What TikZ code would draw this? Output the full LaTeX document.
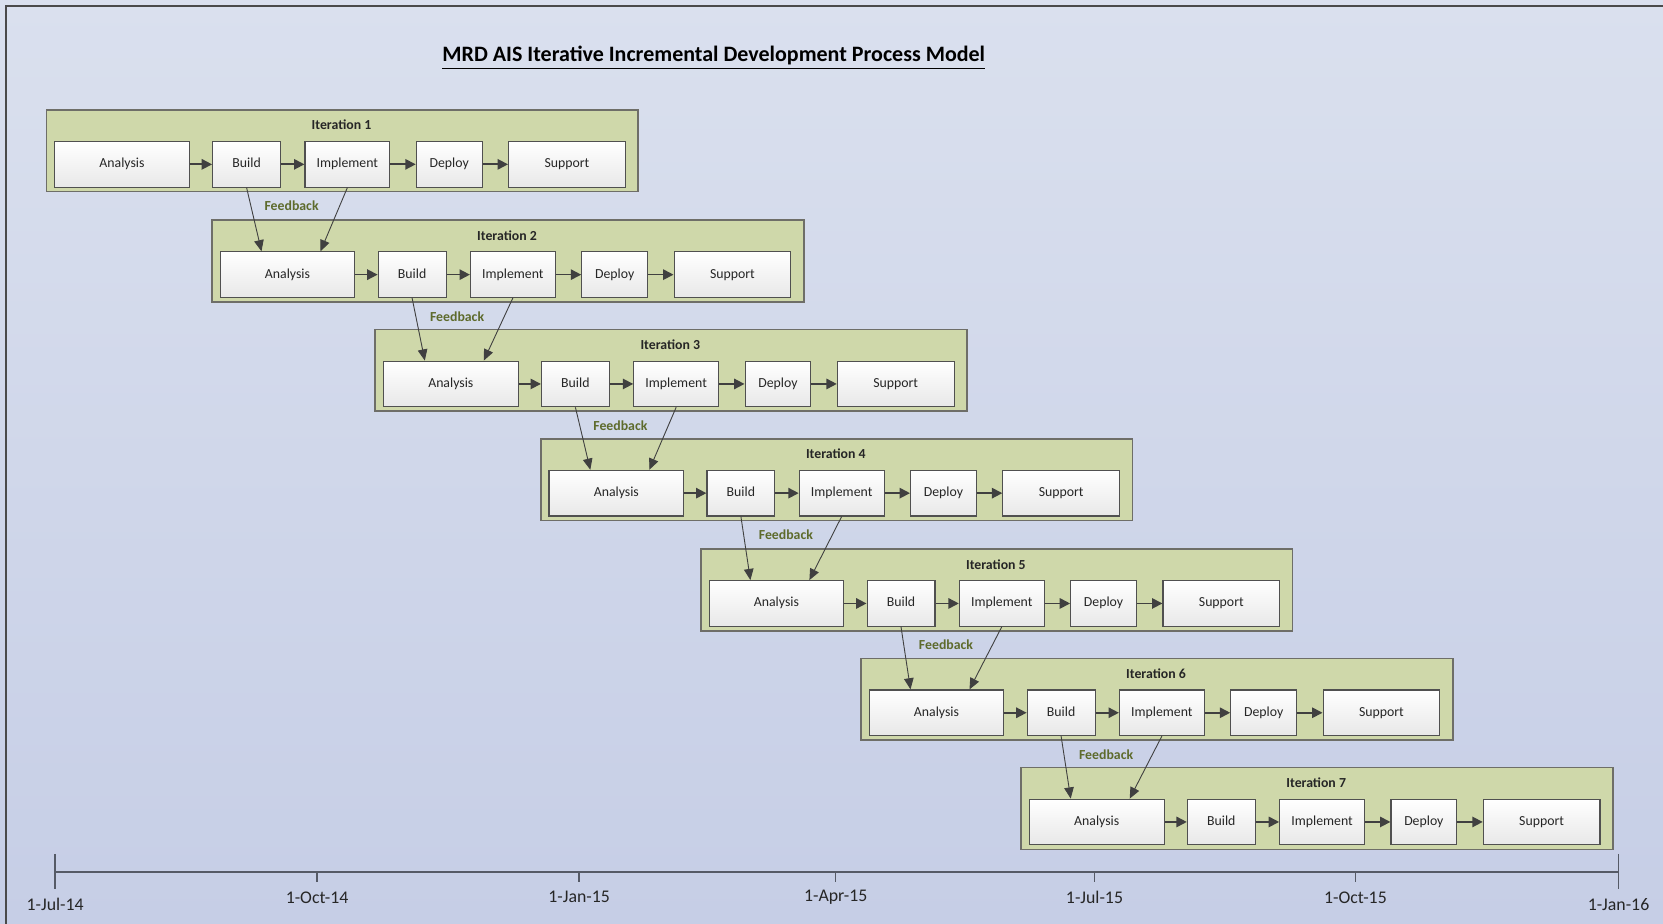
\documentclass[tikz,border=0pt]{standalone}
\usepackage{fontspec}
\setmainfont{Carlito}
\usetikzlibrary{arrows.meta,calc}

\definecolor{bgtop}{HTML}{DAE0EE}
\definecolor{bgbot}{HTML}{C6CEE6}
\definecolor{framec}{HTML}{4A4A4A}
\definecolor{iterfill}{HTML}{CFD8AA}
\definecolor{iterline}{HTML}{6E6E68}
\definecolor{stepline}{HTML}{505050}
\definecolor{stepbot}{HTML}{E8E8E8}
\definecolor{arrowc}{HTML}{404040}
\definecolor{fbcol}{HTML}{5E6B2C}
\definecolor{axisc}{HTML}{555a66}

\tikzset{
  iterbox/.style={draw=iterline, line width=0.8pt, fill=iterfill, anchor=north west,
    minimum width=295.9pt, minimum height=40.85pt, inner sep=0pt},
  stepbox/.style={draw=stepline, line width=0.55pt, top color=white, bottom color=stepbot,
    anchor=north west, minimum height=22.8pt, inner sep=0pt,
    text height=0.68em, text depth=0.34em,
    font=\fontsize{6.9}{8}\selectfont, text=black!85},
  ititle/.style={font=\bfseries\fontsize{6.9}{8}\selectfont, text=black!85},
  flow/.style={draw=arrowc, line width=0.85pt, -{Triangle[length=5.2pt,width=5.2pt]}},
  fbarrow/.style={draw=arrowc, line width=0.45pt, -{Triangle[length=5.6pt,width=4.8pt]}},
  fbtext/.style={font=\bfseries\fontsize{6.9}{8}\selectfont, text=fbcol},
  datetext/.style={font=\fontsize{8.9}{10}\selectfont, text=black!85},
  axisline/.style={draw=axisc, line width=0.75pt},
}

\begin{document}
\begin{tikzpicture}[x=0.5pt,y=-0.5pt]
\useasboundingbox (0,0) rectangle (1663,924);
\shade[top color=bgtop, bottom color=bgbot] (0,0) rectangle (1663,924);

% outer frame (top and left edges)
\draw[framec, line width=0.8pt] (6,924) -- (6,6) -- (1663,6);

% title
\node[font=\bfseries\fontsize{11}{13}\selectfont] (title) at (713.8,58)
  {\underline{MRD AIS Iterative Incremental Development Process Model}};

% iterations: box, five steps, step arrows
\foreach \i/\x/\y in {1/45.6/109.2, 2/211.1/219.5, 3/374.4/328.8, 4/539.9/438.0,
                      5/700.0/548.3, 6/860.1/657.6, 7/1020.3/766.8} {
  \node[iterbox] (it\i) at (\x,\y) {};
  \node[ititle] (tt\i) at (\x+295.9,\y+16) {Iteration \i};
  \node[stepbox, minimum width=67.35pt] (a\i) at (\x+8.5,\y+31.8) {Analysis};
  \node[stepbox, minimum width=33.95pt] (b\i) at (\x+166.5,\y+31.8) {Build};
  \node[stepbox, minimum width=42.4pt]  (m\i) at (\x+258.8,\y+31.8) {Implement};
  \node[stepbox, minimum width=32.9pt]  (d\i) at (\x+370.1,\y+31.8) {Deploy};
  \node[stepbox, minimum width=58.35pt] (s\i) at (\x+462.4,\y+31.8) {Support};
  \draw[flow] (a\i) -- (b\i);
  \draw[flow] (b\i) -- (m\i);
  \draw[flow] (m\i) -- (d\i);
  \draw[flow] (d\i) -- (s\i);
}

% feedback from one iteration into the next
\foreach \i in {1,...,6} {
  \pgfmathtruncatemacro{\j}{\i+1}
  \draw[fbarrow] (b\i.south) -- ($(a\j.north)+(-26,0)$);
  \draw[fbarrow] (m\i.south) -- ($(a\j.north)+(33,0)$);
  \node[fbtext] (fb\i) at ($(it\i.north west)+(246,96.8)$) {Feedback};
}

% timeline
\coordinate (t0) at (55.2,871.8);
\coordinate (t1) at (317.1,871.8);
\coordinate (t2) at (579.1,871.8);
\coordinate (t3) at (835.7,871.8);
\coordinate (t4) at (1094.5,871.8);
\coordinate (t5) at (1355.4,871.8);
\coordinate (t6) at (1618.5,871.8);
\draw[axisline] (t0) -- (t6);
\draw[axisline] ($(t0)+(0,-18)$) -- ($(t0)+(0,17)$);
\draw[axisline] ($(t6)+(0,-18)$) -- ($(t6)+(0,17)$);
\foreach \k in {1,...,5} {
  \draw[axisline] (t\k) -- ($(t\k)+(0,10.5)$);
}
\node[datetext] (d0) at ($(t0)+(0,33)$) {1-Jul-14};
\node[datetext] (d1) at ($(t1)+(0,25.5)$) {1-Oct-14};
\node[datetext] (d2) at ($(t2)+(0,25.5)$) {1-Jan-15};
\node[datetext] (d3) at ($(t3)+(0,25.5)$) {1-Apr-15};
\node[datetext] (d4) at ($(t4)+(0,25.5)$) {1-Jul-15};
\node[datetext] (d5) at ($(t5)+(0,25.5)$) {1-Oct-15};
\node[datetext] (d6) at ($(t6)+(0,33)$) {1-Jan-16};
\end{tikzpicture}
\end{document}
